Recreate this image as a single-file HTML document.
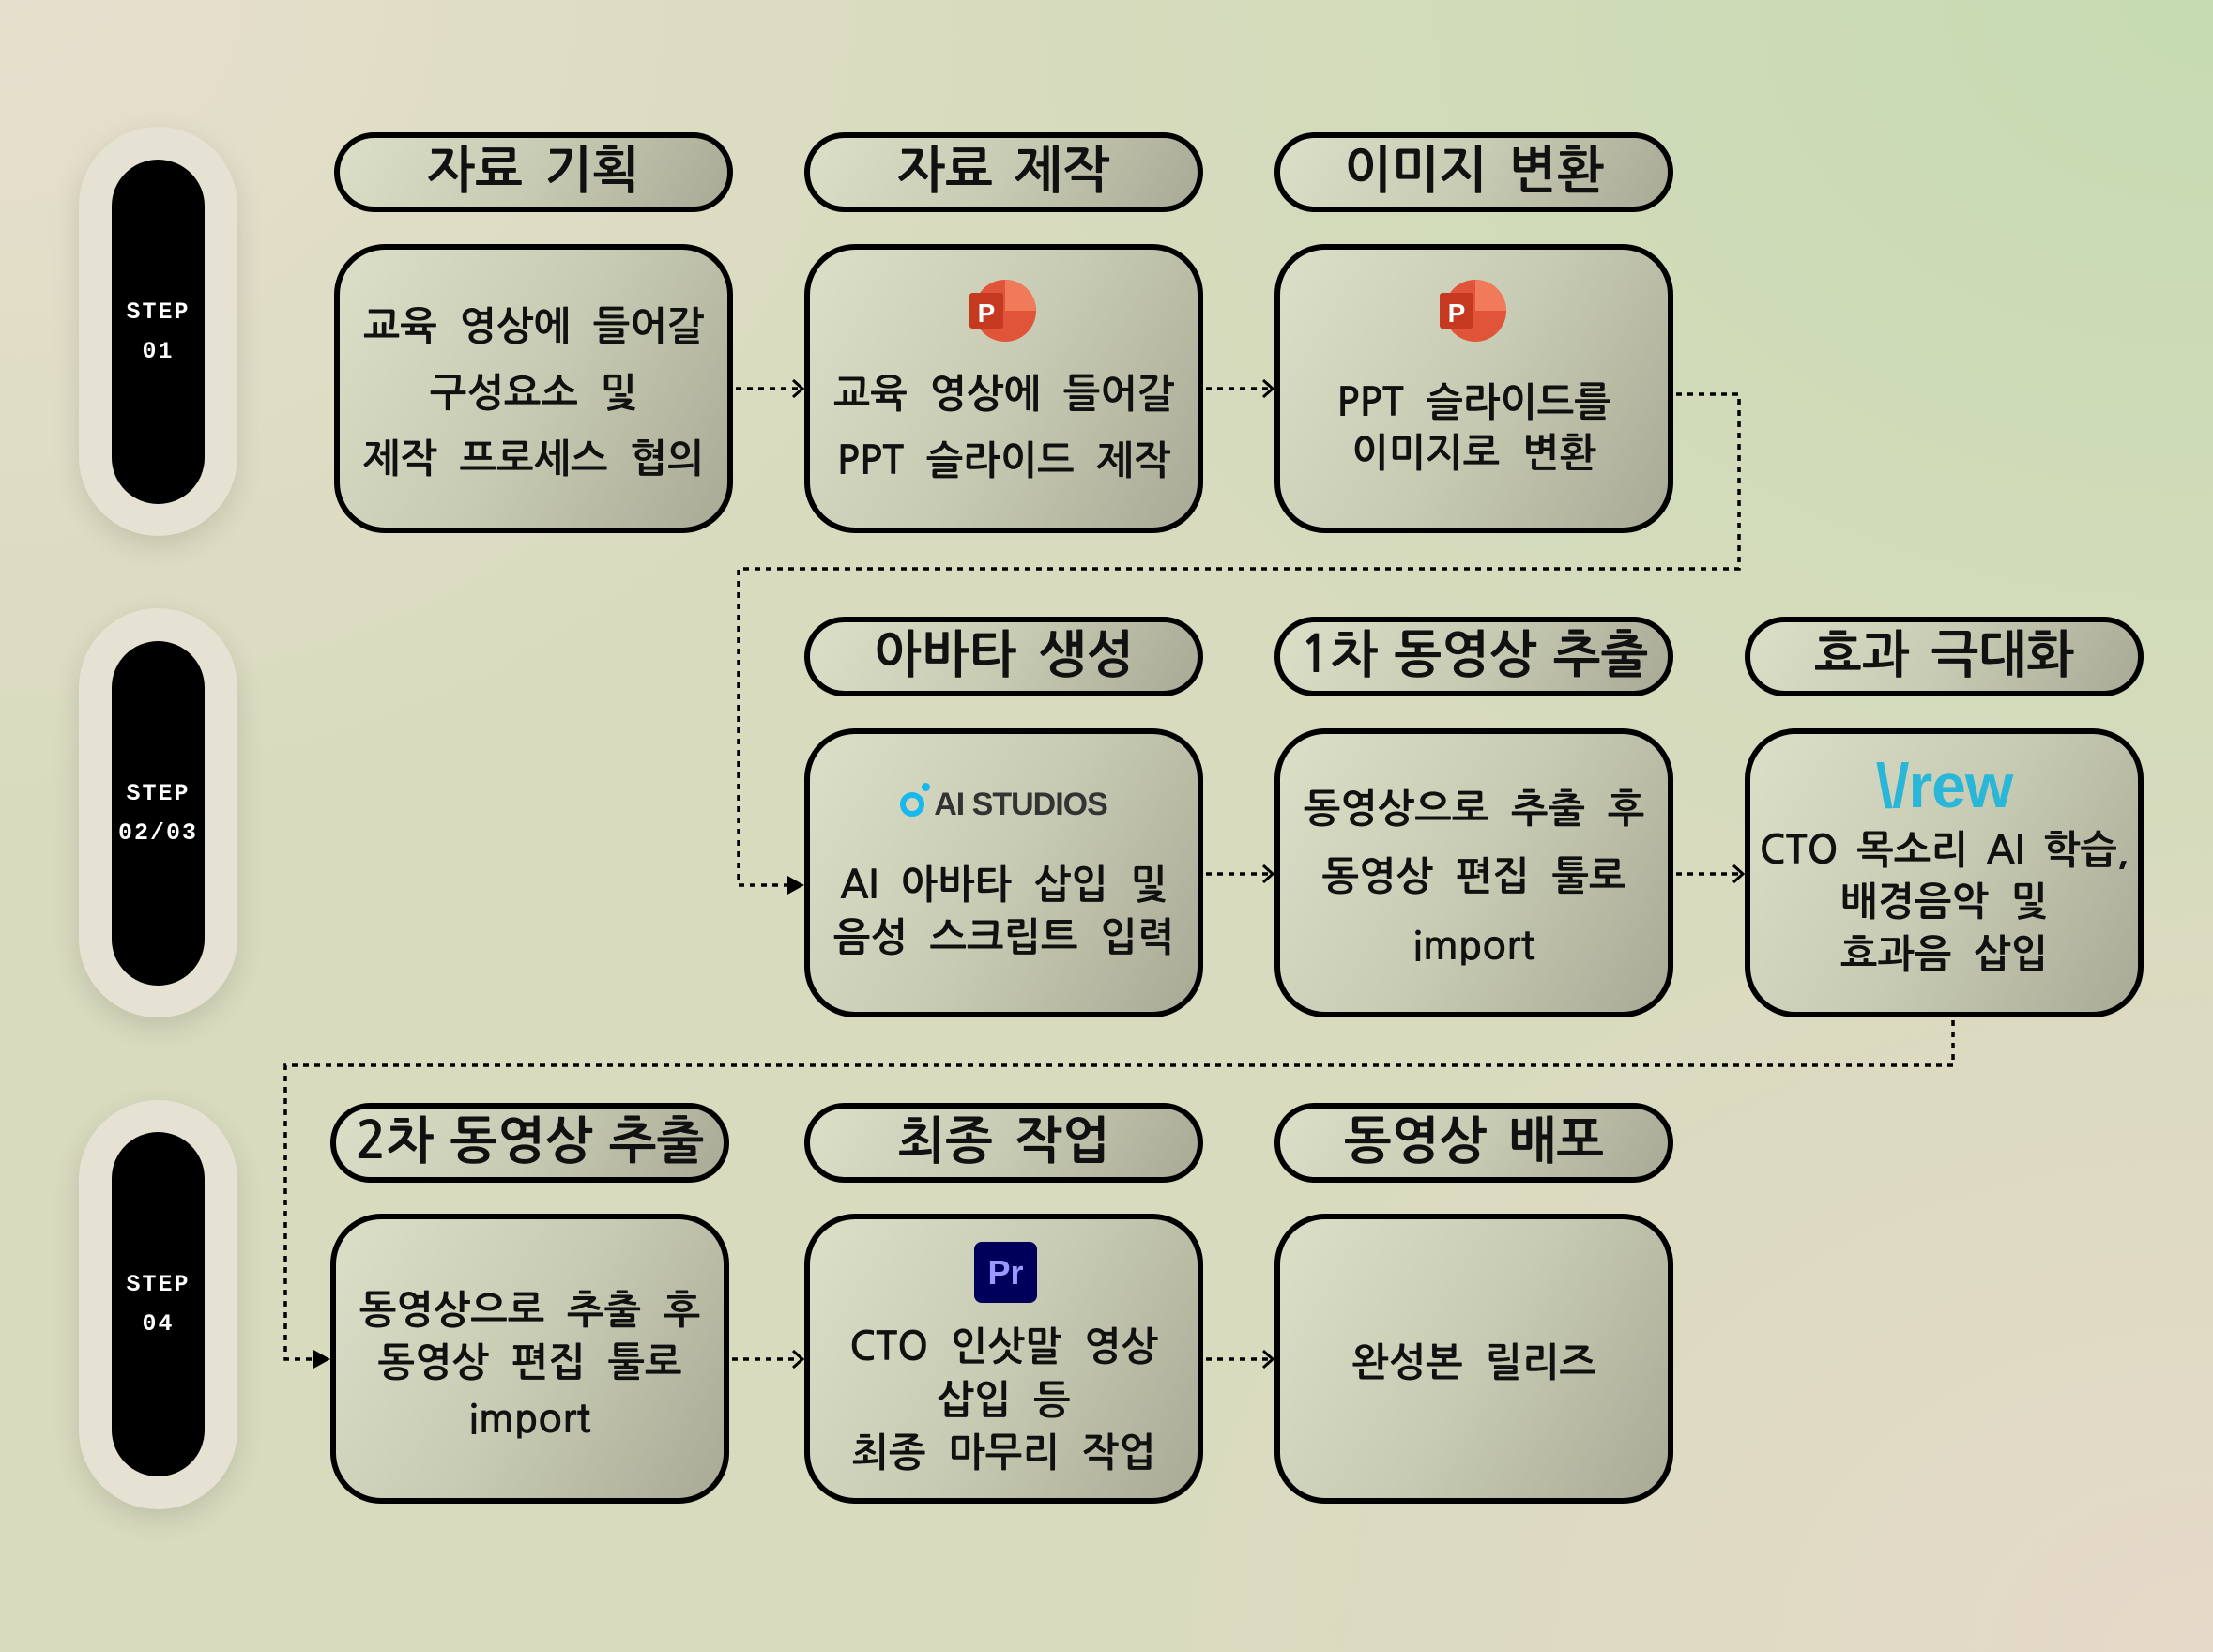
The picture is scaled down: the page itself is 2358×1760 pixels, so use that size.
<!DOCTYPE html>
<html><head><meta charset="utf-8"><style>
*{margin:0;padding:0;box-sizing:border-box}
body{width:2358px;height:1760px;overflow:hidden;position:relative;
background:
radial-gradient(ellipse 1300px 1000px at 2358px 0px,#c6dbb2 0%,rgba(198,219,178,0) 100%),
radial-gradient(ellipse 1100px 900px at 0px 0px,#e7dfcd 0%,rgba(231,223,205,0) 100%),
radial-gradient(ellipse 1200px 900px at 2358px 1760px,#e6d9c9 0%,rgba(230,217,201,0) 100%),
#d8dbbe;
font-family:"NanumGothic","Noto Sans CJK KR",sans-serif;font-weight:bold;color:#111}
.b{position:absolute;border:6px solid #000;background:linear-gradient(120deg,#dcdfc7 0%,#c8cbb3 50%,#a9aa96 100%)}
.t{border-radius:60px}
.bd{border-radius:54px}
.tx{position:absolute;text-align:center;white-space:nowrap;height:60px;line-height:60px}
.tt{font-size:54px;word-spacing:8px}
.bt{font-size:42px;word-spacing:12px}
.so{position:absolute;left:84px;width:169px;border-radius:85px;background:#e6e2d3;box-shadow:0 10px 30px rgba(0,0,0,.12)}
.si{position:absolute;left:119px;width:99px;border-radius:50px;background:#000;color:#fff;font-size:25px;text-align:center;font-family:"Liberation Mono",monospace;letter-spacing:2px;line-height:42px;display:flex;flex-direction:column;justify-content:center}
svg{position:absolute;left:0;top:0}
</style></head><body>
<div class="so" style="top:135px;height:436px"></div><div class="si" style="top:170px;height:367px">STEP<br>01</div>
<div class="so" style="top:648px;height:436px"></div><div class="si" style="top:683px;height:367px">STEP<br>02/03</div>
<div class="so" style="top:1172px;height:436px"></div><div class="si" style="top:1206px;height:367px">STEP<br>04</div>

<div class="b t" style="left:356px;top:141px;width:425px;height:85px"></div>
<div class="b t" style="left:857px;top:141px;width:425px;height:85px"></div>
<div class="b t" style="left:1358px;top:141px;width:425px;height:85px"></div>
<div class="b bd" style="left:356px;top:260px;width:425px;height:308px"></div>
<div class="b bd" style="left:857px;top:260px;width:425px;height:308px"></div>
<div class="b bd" style="left:1358px;top:260px;width:425px;height:308px"></div>
<div class="b t" style="left:857px;top:657px;width:425px;height:85px"></div>
<div class="b t" style="left:1358px;top:657px;width:425px;height:85px"></div>
<div class="b t" style="left:1859px;top:657px;width:425px;height:85px"></div>
<div class="b bd" style="left:857px;top:776px;width:425px;height:308px"></div>
<div class="b bd" style="left:1358px;top:776px;width:425px;height:308px"></div>
<div class="b bd" style="left:1859px;top:776px;width:425px;height:308px"></div>
<div class="b t" style="left:352px;top:1175px;width:425px;height:85px"></div>
<div class="b t" style="left:857px;top:1175px;width:425px;height:85px"></div>
<div class="b t" style="left:1358px;top:1175px;width:425px;height:85px"></div>
<div class="b bd" style="left:352px;top:1293px;width:425px;height:309px"></div>
<div class="b bd" style="left:857px;top:1293px;width:425px;height:309px"></div>
<div class="b bd" style="left:1358px;top:1293px;width:425px;height:309px"></div>

<div class="tx tt" style="left:356px;width:425px;top:153px">자료 기획</div>
<div class="tx tt" style="left:857px;width:425px;top:153px">자료 제작</div>
<div class="tx tt" style="left:1358px;width:425px;top:153px">이미지 변환</div>
<div class="tx tt" style="left:857px;width:425px;top:669px">아바타 생성</div>
<div class="tx tt" style="left:1358px;width:425px;top:669px;word-spacing:2px">1차 동영상 추출</div>
<div class="tx tt" style="left:1859px;width:425px;top:669px">효과 극대화</div>
<div class="tx tt" style="left:352px;width:425px;top:1187px;word-spacing:2px">2차 동영상 추출</div>
<div class="tx tt" style="left:857px;width:425px;top:1187px">최종 작업</div>
<div class="tx tt" style="left:1358px;width:425px;top:1187px">동영상 배포</div>

<div class="tx bt" style="left:356px;width:425px;top:319px">교육 영상에 들어갈</div>
<div class="tx bt" style="left:356px;width:425px;top:390px">구성요소 및</div>
<div class="tx bt" style="left:356px;width:425px;top:460px">제작 프로세스 협의</div>
<div class="tx bt" style="left:857px;width:425px;top:391px">교육 영상에 들어갈</div>
<div class="tx bt" style="left:857px;width:425px;top:462px">PPT 슬라이드 제작</div>
<div class="tx bt" style="left:1358px;width:425px;top:400px">PPT 슬라이드를</div>
<div class="tx bt" style="left:1358px;width:425px;top:454px">이미지로 변환</div>
<div class="tx bt" style="left:857px;width:425px;top:914px">AI 아바타 삽입 및</div>
<div class="tx bt" style="left:857px;width:425px;top:970px">음성 스크립트 입력</div>
<div class="tx bt" style="left:1358px;width:425px;top:833px">동영상으로 추출 후</div>
<div class="tx bt" style="left:1358px;width:425px;top:905px">동영상 편집 툴로</div>
<div class="tx bt" style="left:1358px;width:425px;top:979px">import</div>
<div class="tx bt" style="left:1859px;width:425px;top:877px;word-spacing:8px">CTO 목소리 AI 학습,</div>
<div class="tx bt" style="left:1859px;width:425px;top:932px">배경음악 및</div>
<div class="tx bt" style="left:1859px;width:425px;top:988px">효과음 삽입</div>
<div class="tx" style="left:1859px;width:425px;top:802px;height:70px;line-height:70px;font-size:66px;color:#29b6d8;font-family:'Liberation Sans',sans-serif;letter-spacing:-1px">\/rew</div>
<div class="tx bt" style="left:352px;width:425px;top:1367px">동영상으로 추출 후</div>
<div class="tx bt" style="left:352px;width:425px;top:1423px">동영상 편집 툴로</div>
<div class="tx bt" style="left:352px;width:425px;top:1483px">import</div>
<div class="tx bt" style="left:857px;width:425px;top:1406px">CTO 인삿말 영상</div>
<div class="tx bt" style="left:857px;width:425px;top:1463px">삽입 등</div>
<div class="tx bt" style="left:857px;width:425px;top:1519px">최종 마무리 작업</div>
<div class="tx bt" style="left:1358px;width:425px;top:1423px">완성본 릴리즈</div>

<div class="tx" style="left:857px;width:425px;top:827px;font-size:34px;color:#333;font-family:'Liberation Sans',sans-serif;letter-spacing:-1px">
<span style="display:inline-block;width:26px;height:26px;border:6px solid #18b8ee;border-radius:50%;vertical-align:-2px;margin-right:10px;position:relative"><span style="position:absolute;right:-12px;top:-16px;width:9px;height:9px;background:#18b8ee;border-radius:50%"></span></span>AI STUDIOS</div>

<div style="position:absolute;left:1038px;top:1323px;width:67px;height:65px;background:#00005b;border-radius:8px;color:#9999ff;font-family:'Liberation Sans',sans-serif;font-size:36px;text-align:center;line-height:65px">Pr</div>

<svg width="2358" height="1760">
<defs><marker id="ch" markerWidth="14" markerHeight="20" refX="12" refY="10" orient="auto" markerUnits="userSpaceOnUse"><path d="M2,1 L12,10 L2,19" fill="none" stroke="#000" stroke-width="3"/></marker>
<marker id="tr" markerWidth="18" markerHeight="20" refX="16" refY="10" orient="auto" markerUnits="userSpaceOnUse"><path d="M0,0 L18,10 L0,20Z" fill="#000"/></marker></defs>
<g fill="none" stroke="#000" stroke-width="3.5" stroke-dasharray="6,6">
<path d="M784,414 L855,414" marker-end="url(#ch)"/>
<path d="M1285,414 L1356,414" marker-end="url(#ch)"/>
<path d="M1786,420 L1853,420 L1853,606 L787,606 L787,943 L855,943" marker-end="url(#tr)"/>
<path d="M1285,931 L1356,931" marker-end="url(#ch)"/>
<path d="M1786,931 L1857,931" marker-end="url(#ch)"/>
<path d="M2081,1087 L2081,1135 L304,1135 L304,1448 L350,1448" marker-end="url(#tr)"/>
<path d="M780,1448 L855,1448" marker-end="url(#ch)"/>
<path d="M1285,1448 L1356,1448" marker-end="url(#ch)"/>
</g>
<g transform="translate(1071,331)"><circle r="33" fill="#e0553a"/><path d="M0,-33 A33,33 0 0,1 33,0 L0,0Z" fill="#f07a5a"/><rect x="-38" y="-19" width="36" height="38" rx="3" fill="#c4391f"/><text x="-20" y="12" font-family="Liberation Sans" font-weight="bold" font-size="28" fill="#fff" text-anchor="middle">P</text></g>
<g transform="translate(1572,331)"><circle r="33" fill="#e0553a"/><path d="M0,-33 A33,33 0 0,1 33,0 L0,0Z" fill="#f07a5a"/><rect x="-38" y="-19" width="36" height="38" rx="3" fill="#c4391f"/><text x="-20" y="12" font-family="Liberation Sans" font-weight="bold" font-size="28" fill="#fff" text-anchor="middle">P</text></g>
</svg>
</body></html>
